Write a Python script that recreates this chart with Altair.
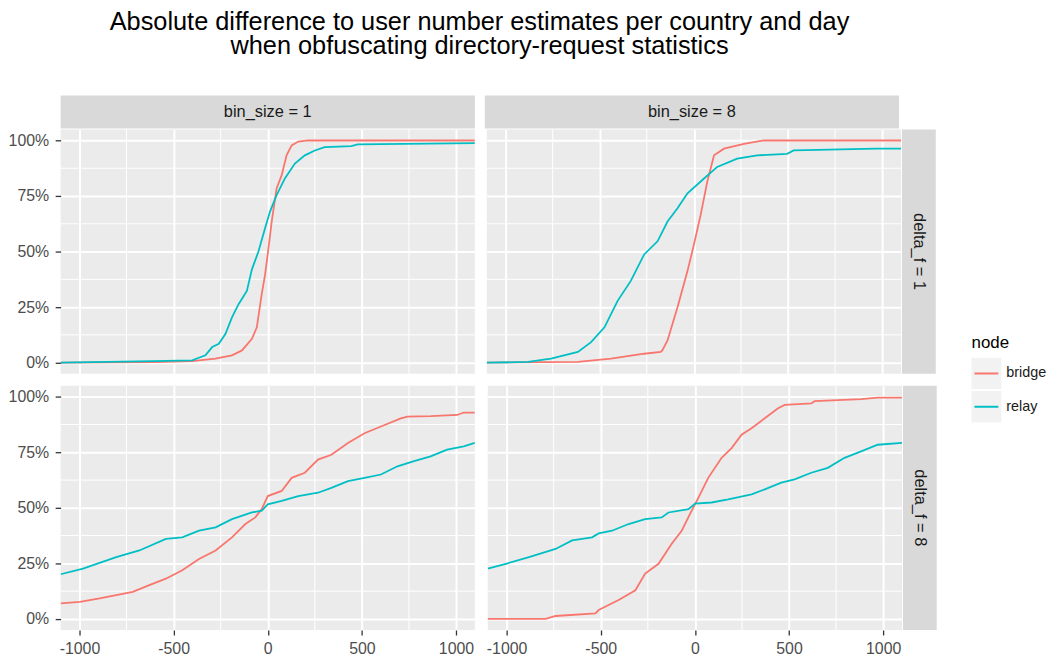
import altair as alt
import pandas as pd

# ---------------- data ----------------
bin_sizes = [1, 8]
delta_fs = [1, 8]
nodes = ["bridge", "relay"]
node_colors = ["#F8766D", "#00BFC4"]

title_lines = ["Absolute difference to user number estimates per country and day",
               "when obfuscating directory-request statistics"]

x_major = [-1000, -500, 0, 500, 1000]
x_minor = [-750, -250, 250, 750]
y_major = [0, 0.25, 0.5, 0.75, 1.0]
y_minor = [0.125, 0.375, 0.625, 0.875]

# bin_size = 1, delta_f = 1
b1_d1_bridge_x = [-1100, -600, -401, -278, -190, -137, -84, -58, -32, -14, 4, 21, 47, 74, 100, 127, 162, 214, 1100]
b1_d1_bridge_y = [0, 0.002, 0.007, 0.018, 0.033, 0.055, 0.107, 0.159, 0.308, 0.397, 0.516, 0.635, 0.784, 0.844, 0.933, 0.978, 0.995, 1.0, 1.0]
b1_d1_relay_x = [-1100, -612, -401, -366, -331, -295, -260, -225, -190, -155, -111, -84, -49, -14, 12, 47, 91, 144, 197, 250, 302, 443, 478, 1100]
b1_d1_relay_y = [0, 0.007, 0.01, 0.022, 0.033, 0.07, 0.085, 0.129, 0.204, 0.263, 0.323, 0.42, 0.501, 0.606, 0.68, 0.754, 0.829, 0.896, 0.933, 0.955, 0.97, 0.975, 0.982, 0.988]

# bin_size = 8, delta_f = 1
b8_d1_bridge_x = [-1100, -616, -440, -264, -176, -167, -140, -87, -34, 0, 36, 71, 107, 160, 266, 371, 1100]
b8_d1_bridge_y = [0, 0.003, 0.018, 0.040, 0.048, 0.056, 0.10, 0.249, 0.412, 0.531, 0.665, 0.814, 0.933, 0.963, 0.985, 1.0, 1.0]
b8_d1_relay_x = [-1100, -881, -759, -616, -546, -475, -405, -335, -264, -193, -140, -87, -34, 54, 124, 230, 336, 495, 530, 971, 1100]
b8_d1_relay_y = [0, 0.003, 0.018, 0.048, 0.092, 0.159, 0.278, 0.368, 0.487, 0.546, 0.635, 0.695, 0.762, 0.829, 0.881, 0.918, 0.933, 0.940, 0.955, 0.963, 0.963]

# bin_size = 1, delta_f = 8
b1_d8_bridge_x = [-1100, -998, -893, -717, -629, -541, -454, -365, -277, -190, -119, -66, -32, 0, 74, 127, 197, 267, 338, 426, 514, 601, 707, 742, 866, 1006, 1041, 1100]
b1_d8_bridge_y = [0.070, 0.077, 0.092, 0.122, 0.152, 0.181, 0.219, 0.27, 0.308, 0.367, 0.427, 0.457, 0.494, 0.553, 0.576, 0.635, 0.658, 0.717, 0.739, 0.792, 0.836, 0.866, 0.903, 0.911, 0.913, 0.918, 0.929, 0.929]
b1_d8_relay_x = [-1100, -981, -805, -682, -541, -454, -365, -277, -190, -84, -32, 0, 74, 162, 267, 338, 426, 514, 601, 689, 777, 865, 953, 1041, 1100]
b1_d8_relay_y = [0.201, 0.226, 0.278, 0.308, 0.36, 0.367, 0.397, 0.412, 0.449, 0.479, 0.487, 0.516, 0.531, 0.553, 0.568, 0.59, 0.62, 0.635, 0.65, 0.687, 0.71, 0.732, 0.762, 0.777, 0.792]

# bin_size = 8, delta_f = 8
b8_d8_bridge_x = [-1100, -793, -740, -528, -511, -405, -316, -264, -193, -123, -70, -17, 19, 71, 142, 195, 248, 301, 371, 442, 477, 618, 636, 883, 971, 1100]
b8_d8_bridge_y = [0, 0, 0.013, 0.025, 0.04, 0.085, 0.129, 0.204, 0.248, 0.338, 0.397, 0.487, 0.546, 0.635, 0.725, 0.769, 0.829, 0.858, 0.903, 0.948, 0.963, 0.97, 0.98, 0.989, 0.996, 0.996]
b8_d8_relay_x = [-1100, -1004, -881, -740, -652, -546, -511, -440, -352, -264, -176, -140, -34, 1, 89, 177, 301, 371, 459, 530, 618, 706, 795, 883, 971, 1100]
b8_d8_relay_y = [0.226, 0.248, 0.278, 0.315, 0.353, 0.367, 0.385, 0.397, 0.427, 0.449, 0.457, 0.479, 0.494, 0.519, 0.524, 0.538, 0.561, 0.583, 0.613, 0.628, 0.658, 0.68, 0.725, 0.754, 0.784, 0.792]

series = {
    (1, 1, "bridge"): (b1_d1_bridge_x, b1_d1_bridge_y),
    (1, 1, "relay"): (b1_d1_relay_x, b1_d1_relay_y),
    (8, 1, "bridge"): (b8_d1_bridge_x, b8_d1_bridge_y),
    (8, 1, "relay"): (b8_d1_relay_x, b8_d1_relay_y),
    (1, 8, "bridge"): (b1_d8_bridge_x, b1_d8_bridge_y),
    (1, 8, "relay"): (b1_d8_relay_x, b1_d8_relay_y),
    (8, 8, "bridge"): (b8_d8_bridge_x, b8_d8_bridge_y),
    (8, 8, "relay"): (b8_d8_relay_x, b8_d8_relay_y),
}

rows = []
for (b, d, n), (xs, ys) in series.items():
    for i, (xv, yv) in enumerate(zip(xs, ys)):
        rows.append({"bin_size": b, "delta_f": d, "node": n, "diff": xv, "ecdf": yv, "order": i})
df = pd.DataFrame(rows)

# ---------------- styling ----------------
FONT = "Liberation Sans"
W, H = 417, 246
PANEL_BG = "#ebebeb"
STRIP_BG = "#d9d9d9"
color_scale = alt.Scale(domain=nodes, range=node_colors)
xscale = alt.Scale(domain=[-1100, 1100], nice=False, zero=False)
yscale = alt.Scale(domain=[-0.05, 1.05], nice=False, zero=False)


def x_axis(show):
    return alt.Axis(values=x_major, grid=True, gridColor="white", gridWidth=2,
                    labels=show, ticks=show, domain=False, title=None,
                    labelExpr="'' + datum.value",
                    tickColor="#333333", tickSize=5, tickWidth=1.3,
                    labelColor="#4d4d4d", labelFontSize=16, labelFont=FONT,
                    labelPadding=6)


def y_axis(show):
    return alt.Axis(values=y_major, format=".0%", grid=True, gridColor="white", gridWidth=2,
                    labels=show, ticks=show, domain=False, title=None,
                    tickColor="#333333", tickSize=5.5, tickWidth=1.3,
                    labelColor="#4d4d4d", labelFontSize=16, labelFont=FONT,
                    labelPadding=6.5)


def panel(b, d, show_x, show_y):
    sub = df[(df.bin_size == b) & (df.delta_f == d)]
    xa, ya = x_axis(show_x), y_axis(show_y)
    minor_x = alt.Chart(pd.DataFrame({"v": x_minor})).mark_rule(
        color="white", strokeWidth=1).encode(
        x=alt.X("v:Q", scale=xscale, axis=xa))
    minor_y = alt.Chart(pd.DataFrame({"v": y_minor})).mark_rule(
        color="white", strokeWidth=1).encode(
        y=alt.Y("v:Q", scale=yscale, axis=ya))
    lines = alt.Chart(sub).mark_line(strokeWidth=1.8, clip=True).encode(
        x=alt.X("diff:Q", scale=xscale, axis=xa),
        y=alt.Y("ecdf:Q", scale=yscale, axis=ya),
        color=alt.Color("node:N", scale=color_scale, legend=None),
        order="order:Q",
    )
    return alt.layer(minor_x, minor_y, lines).properties(
        width=W, height=H, view=alt.ViewBackground(fill=PANEL_BG, stroke=None))


def top_strip(b):
    return alt.Chart(pd.DataFrame({"label": [f"bin_size = {b}"]})).mark_text(
        font=FONT, fontSize=16.5, color="#1a1a1a", baseline="middle").encode(
        text="label:N", x=alt.value(W / 2), y=alt.value(17)).properties(
        width=W, height=33, view=alt.ViewBackground(fill=STRIP_BG, stroke=None))


def right_strip(d):
    return alt.Chart(pd.DataFrame({"label": [f"delta_f = {d}"]})).mark_text(
        font=FONT, fontSize=16.5, color="#1a1a1a", angle=90, baseline="middle").encode(
        text="label:N", x=alt.value(17), y=alt.value(H / 2)).properties(
        width=34, height=H, view=alt.ViewBackground(fill=STRIP_BG, stroke=None))


strip_row = alt.hconcat(top_strip(bin_sizes[0]), top_strip(bin_sizes[1]), spacing=10)
row1 = alt.hconcat(panel(1, 1, False, True),
                   alt.hconcat(panel(8, 1, False, False), right_strip(delta_fs[0]), spacing=0),
                   spacing=10)
row2 = alt.hconcat(panel(1, 8, True, True),
                   alt.hconcat(panel(8, 8, True, False), right_strip(delta_fs[1]), spacing=0),
                   spacing=10)
grid = alt.vconcat(alt.vconcat(strip_row, row1, spacing=0), row2, spacing=10)

# custom legend (ggplot-like keys)
leg_df = pd.DataFrame({"node": nodes})
ly = alt.Y("node:N", axis=None, scale=alt.Scale(domain=nodes, paddingInner=0.06, paddingOuter=0))
keys = alt.Chart(leg_df).mark_rect(color="#f2f2f2").encode(
    x=alt.value(0), x2=alt.value(30), y=ly)
key_lines = alt.Chart(leg_df).mark_rule(strokeWidth=2).encode(
    x=alt.value(3), x2=alt.value(27), y=ly,
    color=alt.Color("node:N", scale=color_scale, legend=None))
key_text = alt.Chart(leg_df).mark_text(
    align="left", baseline="middle", font=FONT, fontSize=14.5, color="#1a1a1a").encode(
    x=alt.value(35), y=ly, text="node:N")
legend = alt.layer(keys, key_lines, key_text).properties(
    width=30, height=65,
    view=alt.ViewBackground(fill=None, stroke=None),
    title=alt.TitleParams("node", anchor="start", fontSize=17, font=FONT,
                          fontWeight="normal", color="black", offset=6))

spacer = alt.Chart(pd.DataFrame({"a": [0]})).mark_point(opacity=0).encode(
    x=alt.value(0), y=alt.value(0)).properties(
    width=30, height=240, view=alt.ViewBackground(fill=None, stroke=None))

legend_col = alt.vconcat(spacer, legend, spacing=0)

chart = alt.hconcat(grid, legend_col, spacing=32).properties(
    title=alt.TitleParams(title_lines, fontSize=25.5, font=FONT, fontWeight="normal",
                          color="black", anchor="middle", lineHeight=23.5, offset=34,
                          dx=-48),
    padding={"left": 0, "top": 0, "right": 0, "bottom": 0},
).configure(background="white").configure_view(stroke=None)

chart.save("out.html", embed_options={"renderer": "svg", "actions": False})
